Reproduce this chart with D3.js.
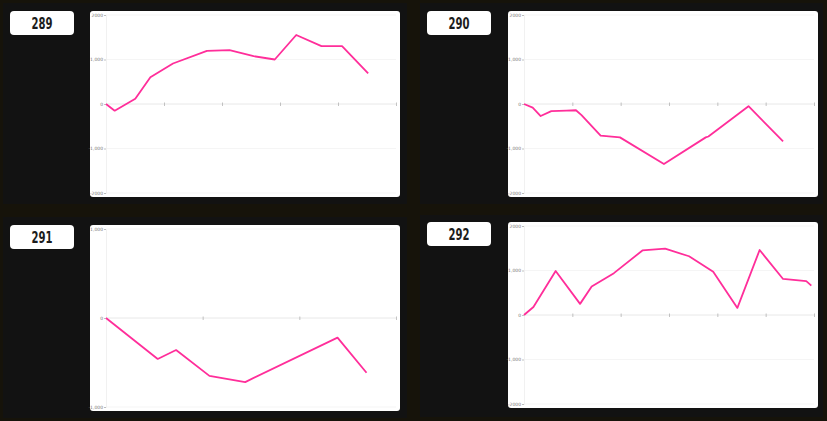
<!DOCTYPE html>
<html>
<head>
<meta charset="utf-8">
<script src="https://cdn.jsdelivr.net/npm/d3@7"></script>
<style>
  html, body { margin: 0; padding: 0; }
  body { background: #16130a; width: 827px; height: 421px; overflow: hidden; }
</style>
</head>
<body>
<script>
// machine numbers
var daiNames = ["289", "290", "291", "292"]

// games played (x) and coin difference (y) per machine
var games289 = [0, 300, 1010, 1530, 2310, 3480, 4260, 5090, 5820, 6560, 7430, 8140, 9040]
var diff289 = [0, -150, 120, 600, 910, 1195, 1210, 1075, 1000, 1550, 1300, 1300, 690]

var games290 = [0, 360, 690, 1130, 1760, 2150, 2380, 3170, 3970, 5790, 7520, 7630, 9290, 10720]
var diff290 = [0, -80, -270, -160, -150, -140, -250, -710, -750, -1350, -750, -730, -50, -840]

var games291 = [0, 1070, 1450, 2140, 2880, 4790, 5390]
var diff291 = [0, -460, -360, -650, -720, -220, -615]

var games292 = [0, 390, 1310, 2320, 2800, 3720, 4900, 5840, 6830, 7830, 8830, 9750, 10720, 11680, 11890]
var diff292 = [0, 180, 990, 250, 640, 940, 1450, 1490, 1320, 970, 160, 1460, 810, 760, 660]

var xMaxes = [10000, 12000, 6000, 12000]
var xStep = 2000

var yTicksBig = [-2000, -1000, 0, 1000, 2000]
var yLabelsBig = ["-2000", "-1,000", "0", "1,000", "2000"]
var yTicksSmall = [-1000, 0, 1000]
var yLabelsSmall = ["-1,000", "0", "1,000"]

var daneGames = [games289, games290, games291, games292]
var daneDiff = [diff289, diff290, diff291, diff292]
var daneYTicks = [yTicksBig, yTicksBig, yTicksSmall, yTicksBig]
var daneYLabels = [yLabelsBig, yLabelsBig, yLabelsSmall, yLabelsBig]

// panel frames (layout only)
var ramki = [
  {px: 3, py: 3, pw: 404, ph: 201, cx: 90, cy: 11},
  {px: 420, py: 3, pw: 403, ph: 201, cx: 508, cy: 11},
  {px: 3, py: 217, pw: 404, ph: 201, cx: 90, cy: 225},
  {px: 420, py: 215, pw: 403, ph: 202, cx: 508, cy: 222}
]
var cw = 310, ch = 186
var m = {top: 4, right: 4, bottom: 4, left: 16}

var svg = d3.select("body").append("svg")
  .attr("width", 827)
  .attr("height", 421)

daiNames.forEach(function(nazwa, i) {
  var r = ramki[i]
  svg.append("rect").attr("x", r.px).attr("y", r.py).attr("width", r.pw).attr("height", r.ph)
    .style("fill", "#121212")

  // number label
  var lx = r.px + 7, ly = r.cy
  svg.append("rect").attr("x", lx).attr("y", ly).attr("width", 64).attr("height", 24)
    .attr("rx", 4).style("fill", "#ffffff")
  svg.append("text").attr("x", lx + 32).attr("y", ly + 18)
    .attr("text-anchor", "middle")
    .attr("textLength", 21).attr("lengthAdjust", "spacingAndGlyphs")
    .style("font-family", "'DejaVu Sans Condensed', 'DejaVu Sans', sans-serif")
    .style("font-weight", "bold")
    .style("font-size", "16.5px")
    .style("fill", "#1c1c1c")
    .text(nazwa)

  // white chart box
  svg.append("rect").attr("x", r.cx).attr("y", r.cy).attr("width", cw).attr("height", ch)
    .attr("rx", 3).style("fill", "#ffffff")

  var g = svg.append("g").attr("transform", "translate(" + (r.cx + m.left) + "," + (r.cy + m.top) + ")")
  var w = cw - m.left - m.right, h = ch - m.top - m.bottom

  var yT = daneYTicks[i]
  var x = d3.scaleLinear().domain([0, xMaxes[i]]).range([0, w])
  var y = d3.scaleLinear().domain([yT[0], yT[yT.length - 1]]).range([h, 0])

  // grid
  g.append("g").selectAll("line").data(yT).enter().append("line")
    .attr("x1", 0).attr("x2", w)
    .attr("y1", function(d) { return y(d) }).attr("y2", function(d) { return y(d) })
    .style("stroke", function(d) { return d === 0 ? "#e2e2e2" : "#f3f3f3" })
    .style("stroke-width", 0.8)

  // y axis
  var labels = daneYLabels[i]
  var yAxis = d3.axisLeft(y).tickValues(yT).tickSize(2).tickPadding(1)
    .tickFormat(function(d, k) { return labels[k] })
  var ya = g.append("g").call(yAxis)
  ya.select(".domain").style("stroke", "#eeeeee").style("stroke-width", 0.8)
  ya.selectAll(".tick line").style("stroke", "#999").style("stroke-width", 0.6)
  ya.selectAll("text").style("font-size", "4.5px").style("fill", "#777")
    .style("font-family", "'DejaVu Sans', sans-serif")

  // x axis on zero line, ticks without labels
  var xTicks = d3.range(xStep, xMaxes[i] + 1, xStep)
  var xAxis = d3.axisBottom(x).tickValues(xTicks).tickSize(2).tickFormat("")
  var xa = g.append("g").attr("transform", "translate(0," + y(0) + ")").call(xAxis)
  xa.select(".domain").remove()
  xa.selectAll(".tick line").attr("y1", -1.5).style("stroke", "#aaa").style("stroke-width", 0.7)

  // series line
  var punkty = daneGames[i].map(function(gm, k) { return [gm, daneDiff[i][k]] })
  var linia = d3.line().x(function(d) { return x(d[0]) }).y(function(d) { return y(d[1]) })
  g.append("path").datum(punkty).attr("d", linia)
    .style("fill", "none").style("stroke", "#ff2e9a").style("stroke-width", 1.8)
    .style("stroke-linejoin", "round")
})
</script>
</body>
</html>
